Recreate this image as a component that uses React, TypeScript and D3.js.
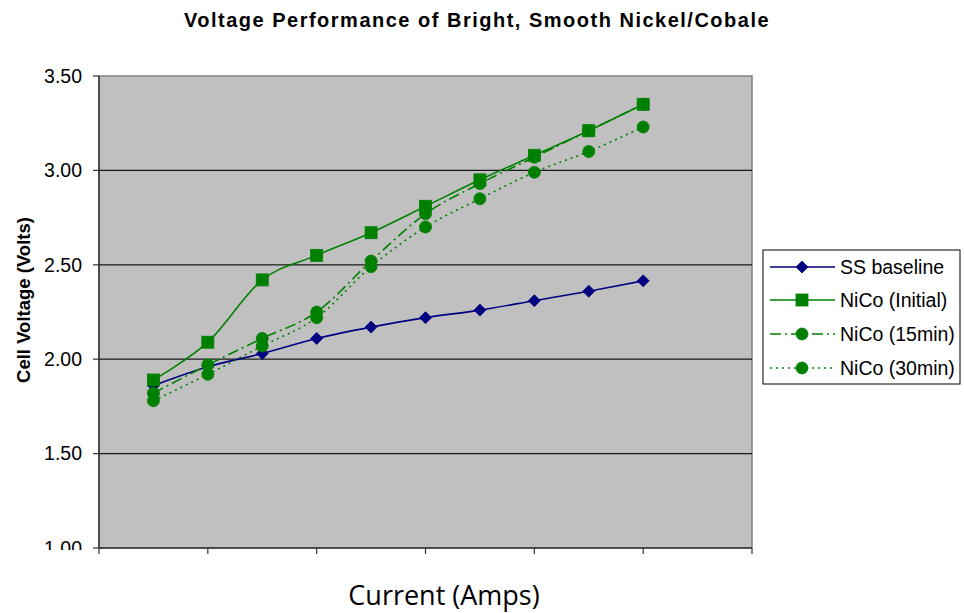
import React from "react";
import * as d3 from "d3";

const currentPoints = [1, 2, 3, 4, 5, 6, 7, 8, 9, 10];
const xTicks = [0, 2, 4, 6, 8, 10, 12];
const yTicks = [1.0, 1.5, 2.0, 2.5, 3.0, 3.5];

const ssBaseline = [1.86, 1.96, 2.03, 2.11, 2.17, 2.22, 2.26, 2.31, 2.36, 2.415];
const nicoInitial = [1.89, 2.09, 2.42, 2.55, 2.67, 2.81, 2.95, 3.08, 3.21, 3.35];
const nico15 = [1.82, 1.97, 2.11, 2.25, 2.52, 2.77, 2.93, 3.07, 3.21, 3.35];
const nico30 = [1.78, 1.92, 2.07, 2.22, 2.49, 2.7, 2.85, 2.99, 3.1, 3.23];

const seriesNames = ["SS baseline", "NiCo (Initial)", "NiCo (15min)", "NiCo (30min)"];

const W = 964;
const H = 613;
const plot = { left: 99, right: 752, top: 76, bottom: 548 };

type Marker = "diamond" | "square" | "circle";
interface Series {
  name: string;
  values: number[];
  color: string;
  dash: string | undefined;
  marker: Marker;
}

const series: Series[] = [
  { name: seriesNames[0], values: ssBaseline, color: "#000080", dash: undefined, marker: "diamond" },
  { name: seriesNames[1], values: nicoInitial, color: "#008000", dash: undefined, marker: "square" },
  { name: seriesNames[2], values: nico15, color: "#008000", dash: "11,4,2,4", marker: "circle" },
  { name: seriesNames[3], values: nico30, color: "#008000", dash: "2,4", marker: "circle" },
];

function MarkerShape({ type, cx, cy, color }: { type: Marker; cx: number; cy: number; color: string }) {
  if (type === "diamond") {
    const r = 6;
    return (
      <path
        d={`M${cx},${cy - r}L${cx + r},${cy}L${cx},${cy + r}L${cx - r},${cy}Z`}
        fill={color}
        stroke={color}
        strokeWidth={0.8}
      />
    );
  }
  if (type === "square") {
    const s = 12;
    return <rect x={cx - s / 2} y={cy - s / 2} width={s} height={s} fill={color} stroke={color} strokeWidth={0.8} />;
  }
  return <circle cx={cx} cy={cy} r={6} fill={color} stroke={color} strokeWidth={0.8} />;
}

export default function App() {
  const x = d3.scaleLinear().domain([0, 12]).range([plot.left, plot.right]);
  const y = d3.scaleLinear().domain([1, 3.5]).range([plot.bottom, plot.top]);

  const line = d3
    .line<number>()
    .x((_, i) => x(currentPoints[i]))
    .y((d) => y(d))
    .curve(d3.curveCardinal.tension(0));

  const legend = { x: 763, y: 250, w: 197, h: 134 };
  const rowY = [267, 300, 334, 368];

  return (
    <svg
      width={W}
      height={H}
      style={{ position: "absolute", left: 0, top: 0, background: "#fff" }}
      fontFamily="'Liberation Sans', Arial, sans-serif"
    >
      <defs>
        <clipPath id="lblClip">
          <rect x={0} y={0} width={98} height={550} />
        </clipPath>
      </defs>
      <rect x={0} y={0} width={W} height={H} fill="#fff" />
      <text x={477} y={27} textAnchor="middle" fontSize={20} fontWeight="bold" letterSpacing={1.5} fill="#000">
        Voltage Performance of Bright, Smooth Nickel/Cobale
      </text>

      {/* plot area */}
      <rect
        x={plot.left}
        y={plot.top}
        width={plot.right - plot.left}
        height={plot.bottom - plot.top}
        fill="#C0C0C0"
        stroke="#808080"
        strokeWidth={1.5}
      />
      {yTicks.slice(1, -1).map((t) => (
        <line key={t} x1={plot.left} x2={plot.right} y1={y(t)} y2={y(t)} stroke="#1a1a1a" strokeWidth={1.2} />
      ))}
      {/* axes */}
      <line x1={plot.left} x2={plot.left} y1={plot.top} y2={plot.bottom} stroke="#333" strokeWidth={1.5} />
      <line x1={plot.left} x2={plot.right} y1={plot.bottom} y2={plot.bottom} stroke="#333" strokeWidth={1.5} />
      {yTicks.map((t) => (
        <g key={t}>
          <line x1={plot.left - 6} x2={plot.left} y1={y(t)} y2={y(t)} stroke="#333" strokeWidth={1.2} />
          <text
            x={82}
            y={y(t)}
            dy="0.35em"
            textAnchor="end"
            fontSize={19.5}
            fill="#000"
            clipPath="url(#lblClip)"
          >
            {t.toFixed(2)}
          </text>
        </g>
      ))}
      {xTicks.map((t) => (
        <line key={t} x1={x(t)} x2={x(t)} y1={plot.bottom} y2={plot.bottom + 6} stroke="#333" strokeWidth={1.2} />
      ))}

      {/* series */}
      {series.map((s) => (
        <g key={s.name}>
          <path d={line(s.values) || ""} fill="none" stroke={s.color} strokeWidth={1.6} strokeDasharray={s.dash} />
          {s.values.map((v, i) => (
            <MarkerShape key={i} type={s.marker} cx={x(currentPoints[i])} cy={y(v)} color={s.color} />
          ))}
        </g>
      ))}

      {/* y axis title */}
      <text
        transform={`translate(30,300) rotate(-90)`}
        textAnchor="middle"
        fontSize={18.5}
        fontWeight="bold"
        fill="#000"
      >
        Cell Voltage (Volts)
      </text>

      {/* x axis title */}
      <text x={444} y={605} textAnchor="middle" fontSize={27} fontFamily="'Open Sans', sans-serif" fill="#000">
        Current (Amps)
      </text>

      {/* legend */}
      <rect x={legend.x} y={legend.y} width={legend.w} height={legend.h} fill="#fff" stroke="#000" strokeWidth={1} />
      {series.map((s, i) => (
        <g key={s.name}>
          <line x1={770} x2={835} y1={rowY[i]} y2={rowY[i]} stroke={s.color} strokeWidth={1.6} strokeDasharray={s.dash} />
          <MarkerShape type={s.marker} cx={802} cy={rowY[i]} color={s.color} />
          <text x={840} y={rowY[i]} dy="0.36em" fontSize={19.5} fill="#000">
            {s.name}
          </text>
        </g>
      ))}
    </svg>
  );
}
